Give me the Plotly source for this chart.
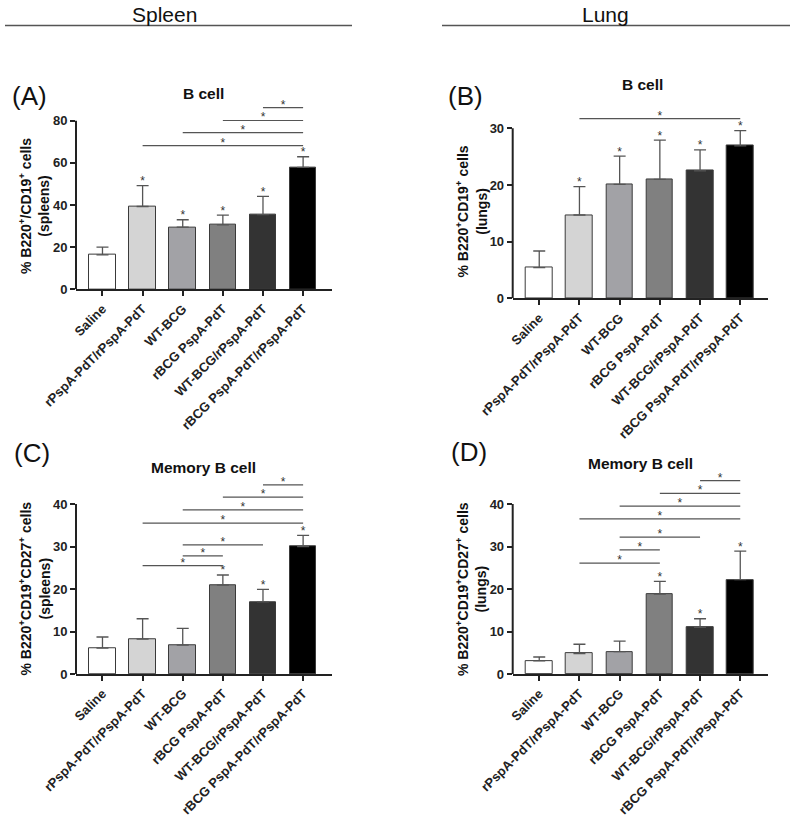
import plotly.graph_objects as go

W, H = 797, 818

categories = ["Saline", "rPspA-PdT/rPspA-PdT", "WT-BCG", "rBCG PspA-PdT",
              "WT-BCG/rPspA-PdT", "rBCG PspA-PdT/rPspA-PdT"]
bar_colors = ["#ffffff", "#d4d4d4", "#a2a2a6", "#808080", "#333333", "#000000"]

# Panel A: B cell, spleen
a_mean = [16.3, 39.3, 29.5, 30.6, 35.4, 57.9]
a_err = [3.7, 9.9, 3.5, 4.6, 8.7, 5.0]
a_star = [0, 1, 1, 1, 1, 1]
a_sig_from = [1, 2, 3, 4]
a_sig_to = [5, 5, 5, 5]
a_sig_y = [68.2, 74.3, 80.1, 86.2]
a_ticks = [0, 20, 40, 60, 80]

# Panel B: B cell, lung
b_mean = [5.4, 14.7, 20.1, 21.0, 22.5, 26.9]
b_err = [2.95, 5.0, 5.0, 6.9, 3.7, 2.7]
b_star = [0, 1, 1, 1, 1, 1]
b_sig_from = [1]
b_sig_to = [5]
b_sig_y = [31.7]
b_ticks = [0, 10, 20, 30]

# Panel C: Memory B cell, spleen
c_mean = [6.1, 8.2, 6.8, 20.9, 17.0, 29.95]
c_err = [2.6, 4.8, 3.95, 2.4, 2.9, 2.65]
c_star = [0, 0, 0, 1, 1, 1]
c_sig_from = [4, 3, 2, 1, 2, 2, 1]
c_sig_to = [5, 5, 5, 5, 4, 3, 3]
c_sig_y = [44.5, 41.6, 38.6, 35.5, 30.4, 27.8, 25.5]
c_ticks = [0, 10, 20, 30, 40]

# Panel D: Memory B cell, lung
d_mean = [3.1, 4.8, 5.25, 18.8, 11.0, 22.2]
d_err = [0.9, 2.2, 2.5, 3.0, 2.0, 6.7]
d_star = [0, 0, 0, 1, 1, 1]
d_sig_from = [4, 3, 2, 1, 2, 2, 1]
d_sig_to = [5, 5, 5, 5, 4, 3, 3]
d_sig_y = [45.5, 42.5, 39.5, 36.5, 32.2, 29.2, 26.1]
d_ticks = [0, 10, 20, 30, 40]

AX = "#222222"
SIG = "#555555"
FONT = "Liberation Sans, Arial, sans-serif"

fig = go.Figure()


def px_x(p):
    return p / W


def px_y(p):
    return 1 - p / H


panels = [
    dict(idx=1, mean=a_mean, err=a_err, star=a_star, sf=a_sig_from, st=a_sig_to, sy=a_sig_y,
         ticks=a_ticks, x0=76, x1=332, y0=289.3, ppu=168.6 / 80, ymax=90, xr=[-0.66, 5.72]),
    dict(idx=2, mean=b_mean, err=b_err, star=b_star, sf=b_sig_from, st=b_sig_to, sy=b_sig_y,
         ticks=b_ticks, x0=512.7, x1=768, y0=298.3, ppu=170 / 30, ymax=33.5, xr=[-0.66, 5.69]),
    dict(idx=3, mean=c_mean, err=c_err, star=c_star, sf=c_sig_from, st=c_sig_to, sy=c_sig_y,
         ticks=c_ticks, x0=76, x1=332, y0=674, ppu=170 / 40, ymax=47, xr=[-0.66, 5.72]),
    dict(idx=4, mean=d_mean, err=d_err, star=d_star, sf=d_sig_from, st=d_sig_to, sy=d_sig_y,
         ticks=d_ticks, x0=512.7, x1=768, y0=674, ppu=170 / 40, ymax=47.5, xr=[-0.66, 5.69]),
]

shapes = []
layout_axes = {}
for p in panels:
    i = p["idx"]
    xa = "x" if i == 1 else f"x{i}"
    ya = "y" if i == 1 else f"y{i}"
    xs = list(range(len(categories)))
    fig.add_trace(go.Bar(
        x=xs, y=p["mean"], width=0.66, xaxis=xa, yaxis=ya,
        marker=dict(color=bar_colors, line=dict(color="#3a3a3a", width=1)),
        error_y=dict(type="data", symmetric=False, array=p["err"],
                     arrayminus=[0] * len(p["err"]), color="#555555",
                     thickness=1.3, width=6),
        showlegend=False, hoverinfo="skip"))
    # stars above bars
    off_bar = 3.5 / p["ppu"]
    sx = [x for x, s in zip(xs, p["star"]) if s]
    syv = [m + e + off_bar for m, e, s in zip(p["mean"], p["err"], p["star"]) if s]
    fig.add_trace(go.Scatter(x=sx, y=syv, mode="text", text=["*"] * len(sx),
                             textposition="middle center",
                             textfont=dict(family=FONT, size=12, color="#333333"),
                             xaxis=xa, yaxis=ya, showlegend=False, hoverinfo="skip",
                             cliponaxis=False))
    # significance lines
    off_sig = 2.0 / p["ppu"]
    for f, t, yv in zip(p["sf"], p["st"], p["sy"]):
        fig.add_trace(go.Scatter(x=[f, t], y=[yv, yv], mode="lines",
                                 line=dict(color=SIG, width=1.2),
                                 xaxis=xa, yaxis=ya, showlegend=False, hoverinfo="skip"))
        fig.add_trace(go.Scatter(x=[(f + t) / 2], y=[yv + off_sig], mode="text", text=["*"],
                                 textposition="middle center",
                                 textfont=dict(family=FONT, size=12, color="#333333"),
                                 xaxis=xa, yaxis=ya, showlegend=False, hoverinfo="skip",
                                 cliponaxis=False))
    top_px = p["y0"] - p["ymax"] * p["ppu"]
    xdom = [px_x(p["x0"]), px_x(p["x1"])]
    ydom = [px_y(p["y0"]), px_y(top_px)]
    layout_axes["xaxis" if i == 1 else f"xaxis{i}"] = dict(
        domain=xdom, anchor=ya, range=p["xr"], tickmode="array", tickvals=xs,
        ticktext=categories, tickangle=-45, ticks="outside", ticklen=5, tickwidth=1.5,
        tickcolor=AX, showline=True, linecolor=AX, linewidth=2, showgrid=False,
        zeroline=False, automargin=False,
        tickfont=dict(family=FONT, size=13, color="#222222", weight="bold"),
        fixedrange=True)
    layout_axes["yaxis" if i == 1 else f"yaxis{i}"] = dict(
        domain=ydom, anchor=xa, range=[0, p["ymax"]], tickmode="array", tickvals=p["ticks"],
        ticks="outside", ticklen=5, tickwidth=2, tickcolor=AX, showline=False,
        showgrid=False, zeroline=False, automargin=False,
        tickfont=dict(family=FONT, size=13, color="#222222", weight="bold"), fixedrange=True)
    shapes.append(dict(type="line", xref="paper", yref=ya, x0=xdom[0], x1=xdom[0],
                       y0=0, y1=p["ticks"][-1], line=dict(color=AX, width=2)))

# header lines
for xa0, xa1 in [(5, 352), (442, 790)]:
    shapes.append(dict(type="line", xref="paper", yref="paper", x0=px_x(xa0), x1=px_x(xa1),
                       y0=px_y(25.5), y1=px_y(25.5), line=dict(color="#555555", width=1.5)))

annotations = []


def ann(text, x, y, size, bold=False, angle=0):
    annotations.append(dict(text=text, x=px_x(x), y=px_y(y), xref="paper", yref="paper",
                            showarrow=False, xanchor="center", yanchor="middle",
                            textangle=angle,
                            font=dict(family=FONT, size=size, color="#111111",
                                      weight="bold" if bold else "normal")))


ann("Spleen", 164, 14, 21)
ann("Lung", 605, 14, 21)
ann("(A)", 29, 96, 26)
ann("(B)", 465, 96, 26)
ann("(C)", 31.5, 453, 26)
ann("(D)", 469, 452, 26)
ann("B cell", 203, 93, 15.5, bold=True)
ann("B cell", 642, 84, 15.5, bold=True)
ann("Memory B cell", 203, 467.5, 15.5, bold=True)
ann("Memory B cell", 640, 464, 15.5, bold=True)
ann("% B220<sup>+</sup>/CD19<sup>+</sup> cells<br>(spleens)", 34, 206, 14, bold=True, angle=-90)
ann("% B220<sup>+</sup>CD19<sup>+</sup> cells<br>(lungs)", 471.5, 212, 14, bold=True, angle=-90)
ann("% B220<sup>+</sup>CD19<sup>+</sup>CD27<sup>+</sup> cells<br>(spleens)", 34.5, 589, 14,
    bold=True, angle=-90)
ann("% B220<sup>+</sup>CD19<sup>+</sup>CD27<sup>+</sup> cells<br>(lungs)", 471, 589, 14,
    bold=True, angle=-90)

fig.update_layout(template="none", width=W, height=H, margin=dict(l=0, r=0, t=0, b=0),
                  paper_bgcolor="white", plot_bgcolor="white", shapes=shapes,
                  annotations=annotations, bargap=0, **layout_axes)

fig.write_html("out.html")
